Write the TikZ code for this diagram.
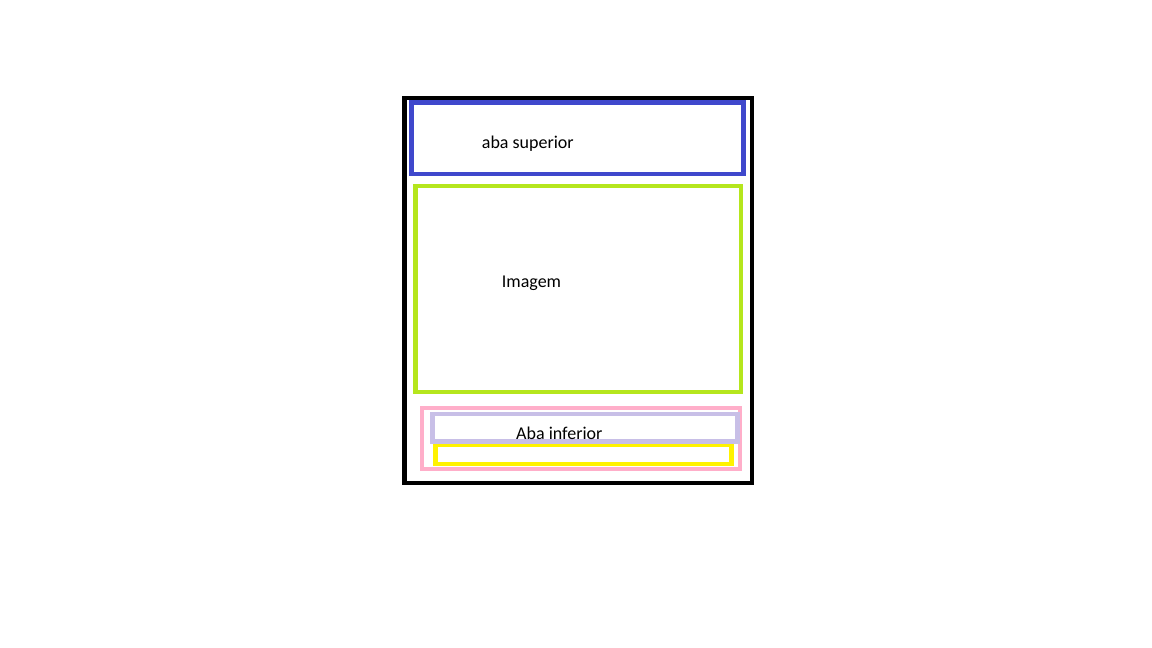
\documentclass[tikz,border=0pt]{standalone}
\usepackage{fontspec}
\setmainfont{Carlito}
\usepackage{tikz}
\usetikzlibrary{positioning}
\definecolor{frameblack}{RGB}{0,0,0}
\definecolor{topblue}{RGB}{63,72,204}
\definecolor{imglime}{RGB}{181,230,29}
\definecolor{botpink}{RGB}{255,174,201}
\definecolor{botlav}{RGB}{200,191,231}
\definecolor{botyellow}{RGB}{255,242,0}

\begin{document}
\begin{tikzpicture}[
    x=1pt, y=-1pt,
    panel/.style={rectangle, draw, inner sep=0pt, outer sep=0pt, line width=4.5pt},
    caption/.style={anchor=base west, inner sep=0pt, font=\fontsize{18pt}{20pt}\selectfont}
]
\useasboundingbox (0,0) rectangle (1152,648);

\node[panel, draw=frameblack, minimum width=347.5pt, minimum height=385pt] (phone) at (578.25, 290.5) {};
\node[panel, draw=topblue, minimum width=331.6pt, minimum height=71.3pt] (topbar) at (577.5, 138.35) {};
\node[panel, draw=imglime, minimum width=325.3pt, minimum height=206.2pt] (image) at (578.35, 288.9) {};
\node[panel, draw=botpink, line width=4pt, minimum width=317.7pt, minimum height=61pt] (bottombar) at (580.85, 438.5) {};
\node[panel, draw=botyellow, minimum width=296.2pt, minimum height=19pt] (bottomlow) at (583.6, 454.5) {};
\node[panel, draw=botlav, minimum width=305.2pt, minimum height=27.5pt] (bottomup) at (584.9, 427.75) {};

\node[caption] (toptext) at (481.7, 148.3) {aba superior};
\node[caption] (imgtext) at (501.7, 287.3) {Imagem};
\node[caption] (bottext) at (516, 439) {Aba inferior};
\end{tikzpicture}
\end{document}
